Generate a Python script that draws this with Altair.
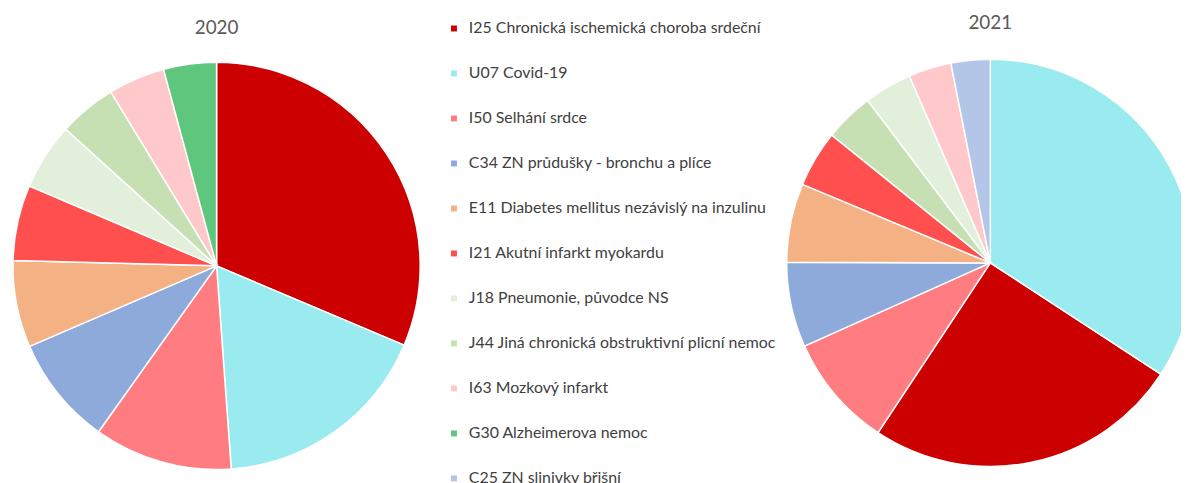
import altair as alt
import pandas as pd

categories = [
    "I25 Chronická ischemická choroba srdeční",
    "U07 Covid-19",
    "I50 Selhání srdce",
    "C34 ZN průdušky - bronchu a plíce",
    "E11 Diabetes mellitus nezávislý na inzulinu",
    "I21 Akutní infarkt myokardu",
    "J18 Pneumonie, původce NS",
    "J44 Jiná chronická obstruktivní plicní nemoc",
    "I63 Mozkový infarkt",
    "G30 Alzheimerova nemoc",
    "C25 ZN slinivky břišní",
]
colors = [
    "#cc0000", "#9aebef", "#ff7c80", "#8eaadb", "#f4b183", "#ff4f4f",
    "#e2efda", "#c6e0b4", "#ffc9cc", "#5ec77d", "#b4c6e7",
]
years = ["2020", "2021"]
share_2020 = [31.4, 17.5, 11.0, 8.7, 6.9, 6.0, 5.3, 4.6, 4.5, 4.2, 0.0]
share_2021 = [25.1, 34.2, 9.0, 6.75, 6.25, 4.5, 3.8, 3.9, 3.4, 0.0, 3.1]

rows = []
for yr, vals in zip(years, [share_2020, share_2021]):
    for c, v in zip(categories, vals):
        if v > 0:
            rows.append({"year": yr, "cause": c, "value": v})
df = pd.DataFrame(rows)
titles = pd.DataFrame({"year": years})

color_scale = alt.Scale(domain=categories, range=colors)
legend = alt.Legend(
    title=None, orient="none", legendX=441, legendY=11, direction="vertical",
    symbolType="square", symbolSize=36, symbolStrokeWidth=0,
    labelFont="Lato", labelFontSize=16, labelColor="#404040",
    labelLimit=500, rowPadding=29.3, labelOffset=7,
)


def pie(year, cx, cy, show_legend):
    return alt.Chart(df).transform_filter(alt.datum.year == year).mark_arc(
        outerRadius=205, stroke="white", strokeWidth=1.5
    ).encode(
        theta=alt.Theta("value:Q", stack=True),
        color=alt.Color("cause:N", scale=color_scale,
                        legend=legend if show_legend else None),
        order=alt.Order("value:Q", sort="descending"),
        x=alt.value(cx),
        y=alt.value(cy),
    )


def title(year, cx, cy):
    return alt.Chart(titles).transform_filter(alt.datum.year == year).mark_text(
        font="Lato", fontSize=19, color="#595959", baseline="middle", align="center"
    ).encode(text="year:N", x=alt.value(cx), y=alt.value(cy))


chart = alt.layer(
    pie("2020", 210, 258, True),
    pie("2021", 989, 255, False),
    title("2020", 210, 19),
    title("2021", 989, 14),
).resolve_scale(theta="independent").properties(
    width=1181, height=475, padding=0, autosize="none"
).configure_view(stroke=None)

chart.save("out.html", embed_options={"renderer": "svg", "actions": False})
